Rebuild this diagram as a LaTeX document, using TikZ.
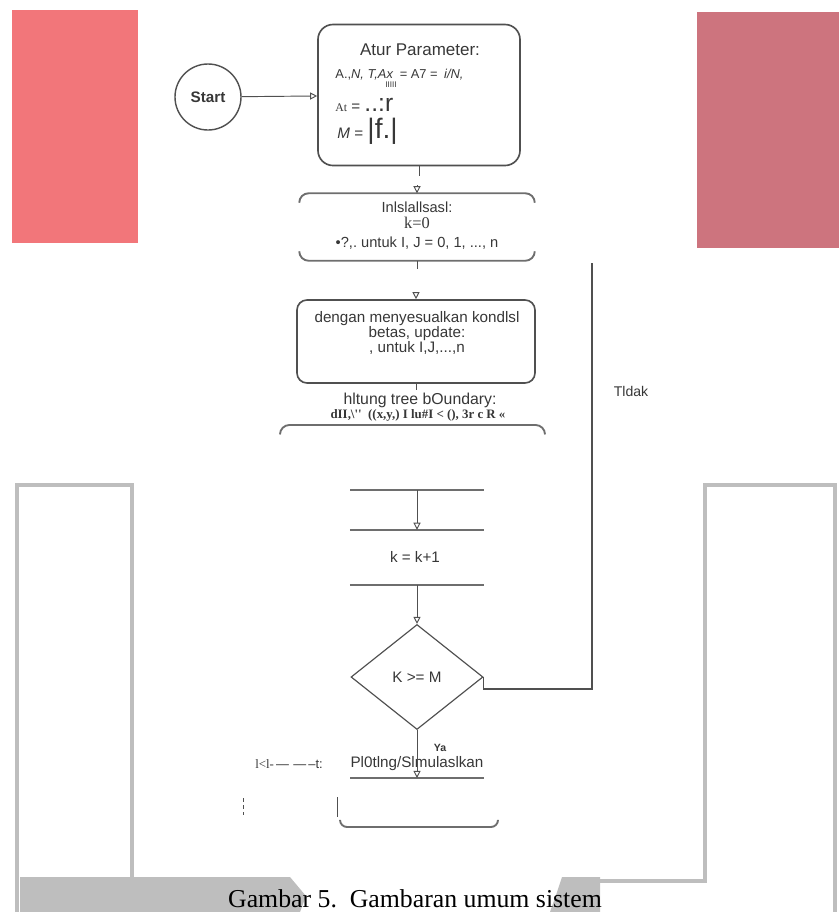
\documentclass[tikz,border=0pt]{standalone}
\usepackage{fontspec}
\setmainfont{Liberation Sans}
\newfontfamily\capfont{Liberation Serif}
\usetikzlibrary{arrows.meta,positioning,shapes.geometric,calc}
\definecolor{scanpink} {RGB}{242,118,122}
\definecolor{scanrose} {RGB}{205,116,126}
\definecolor{framegray}{RGB}{190,190,190}
\definecolor{linegray} {RGB}{ 80, 80, 80}
\definecolor{edgegray} {RGB}{110,110,110}
\definecolor{txtgray}  {RGB}{ 55, 55, 55}
\tikzset{
  flowtxt/.style={font=\fontsize{13}{15}\selectfont,text=txtgray,
                  align=center,inner sep=1pt},
  startnode/.style={circle,draw=linegray,line width=1.2pt,
                    minimum size=1.98cm,
                    font=\fontsize{13}{15}\selectfont\bfseries,text=txtgray},
  parbox/.style={draw=linegray,line width=1.4pt,rounded corners=0.45cm,
                 minimum width=6.06cm,minimum height=4.23cm},
  procbox/.style={draw=linegray,line width=1.4pt,rounded corners=0.3cm,
                  minimum width=7.14cm,minimum height=2.49cm},
  blankbox/.style={minimum width=#1,minimum height=1.65cm,inner sep=0pt},
  decbox/.style={diamond,draw=linegray,line width=1pt,
                 minimum width=3.96cm,minimum height=3.15cm,inner sep=0pt,
                 flowtxt},
  flow/.style={linegray,line width=0.8pt},
  arr/.style={flow,-{Triangle[open,length=6pt,width=6pt]}},
  edge/.style={edgegray,line width=1.6pt},
  scanframe/.style={framegray,line width=4pt},
}
\begin{document}
\begin{tikzpicture}[x=0.03cm,y=-0.03cm]
  \useasboundingbox (0,0) rectangle (839,912);
  \clip (0,0) rectangle (839,912);

  % scan margins
  \fill[scanpink] (12,10) rectangle (138,243);
  \fill[scanrose] (697,12) rectangle (839,248);
  \draw[scanframe] (17,912) -- (17,485) -- (132,485) -- (132,878);
  \draw[scanframe] (600,881) -- (705,881) -- (705,485) -- (835,485) -- (835,912);
  \fill[framegray] (20,877) -- (290,877) -- (306,896) -- (300,912) -- (20,912) -- cycle;
  \fill[framegray] (562,877) -- (600,877) -- (600,912) -- (550,912) -- (556,895) -- cycle;

  \node[startnode](start) at (208,97) {Start};
  \node[parbox](param) at (419,95) {};
  \node[flowtxt,font=\fontsize{14.5}{16}\selectfont](partitle) at (420,50) {Atur Parameter:};
  \node[flowtxt,anchor=west,font=\fontsize{11}{13}\selectfont](parline1) at (334,75)
    {A.,\textit{N, T,Ax}\enspace= A7 =\enspace\textit{i/N,}};
  \node[flowtxt,font=\fontsize{7}{7}\selectfont](parbars) at (391,85) {IIIII};
  \node[flowtxt,anchor=west](parline2) at (334,105)
    {{\capfont\fontsize{10}{10}\selectfont At} = {\fontsize{21}{21}\selectfont..:r}};
  \node[flowtxt,anchor=west](parline3) at (336,131)
    {\textit{M} = {\fontsize{24}{24}\selectfont|f.|}};

  \node[minimum width=7.05cm,minimum height=2.01cm](init) at (417,227) {};
  \node[flowtxt,font=\fontsize{12.5}{15}\selectfont](inittxt) at (417,226)
    {Inlslallsasl:\\[-2pt]{\capfont\fontsize{14}{14}\selectfont k=0}\\[2pt]•?,.\ untuk I, J = 0, 1, ..., n};
  \draw[edge,rounded corners=8] ($(init.north west)+(0,9)$) -- (init.north west)
    -- (init.north east) -- ($(init.north east)+(0,9)$);
  \draw[edge,rounded corners=8] ($(init.south west)+(0,-9)$) -- (init.south west)
    -- (init.south east) -- ($(init.south east)+(0,-9)$);

  \node[procbox](adjust) at (416,341.5) {};
  \node[flowtxt](adjtxt) at (417,333)
    {dengan menyesualkan kondlsl\\[-2pt]betas, update:\\[-2pt], untuk I,J,...,n};

  \node[flowtxt,font=\fontsize{13.5}{15}\selectfont](bound) at (420,400) {hltung tree bOundary:};
  \node[flowtxt,font=\capfont\fontsize{11}{12}\selectfont\bfseries](boundeq) at (418,415)
    {dII,\textbackslash'' \ ((x,y,) I lu\#I < (),\ 3r c R «};
  \draw[edge,rounded corners=8] (280,434) -- (280,425) -- (545,425) -- (545,434);

  \draw[flow] (param.south) -- ++(0,10);
  \draw[arr] ($(init.north)+(0,-8)$) -- (init.north);
  \draw[flow] (init.south) -- ++(0,8);
  \draw[arr] ($(adjust.north)+(0,-6)$) -- (adjust.north);
  \draw[flow] (adjust.south) -- ++(0,6);
  \draw[arr] (start) -- (param);

  \coordinate (bndout) at (417,490);
  \draw[edge] (350,490) -- (484,490);
  \node[blankbox=4.02cm](kinc) at (417,557.5) {};
  \node[flowtxt](kinctxt) at (415,557) {k = k+1};
  \draw[edge] (kinc.north west) -- (kinc.north east);
  \draw[edge] (kinc.south west) -- (kinc.south east);

  \node[decbox](dec) at (417,677) {K >= M};
  \draw[arr] (bndout) -- (kinc.north);
  \draw[arr] (kinc.south) -- (dec.north);

  \coordinate (loopend) at (592,263);
  \draw[flow,line width=1pt] (dec.east) -- ++(0,12) -| (loopend);
  \node[flowtxt,font=\fontsize{12}{14}\selectfont](tidak) at (631,391) {Tldak};

  \node[flowtxt](plot) at (417,764) {Pl0tlng/Slmulaslkan};
  \node[flowtxt,font=\fontsize{9}{9}\selectfont\bfseries](ya) at (440,748) {Ya};
  \coordinate (plotin) at (417,778);
  \draw[edge] (350,778) -- (484,778);
  \draw[arr] (dec.south) -- (plotin);
  \node[flowtxt,font=\fontsize{11}{12}\selectfont](plotleft) at (289,764)
    {{\capfont l<l-}\,—\,\,—\,–t:};

  \draw[flow,dashed] (243,798) -- (243,815);
  \draw[flow] (337,797) -- (337,817);
  \draw[edge,rounded corners=6] (340,820) -- (340,827) -- (498,827) -- (498,820);

  \node[anchor=base,inner sep=0pt,font=\capfont\fontsize{22}{22}\selectfont](cap) at (415,907)
    {Gambar 5.\ \ Gambaran umum sistem};
\end{tikzpicture}
\end{document}
